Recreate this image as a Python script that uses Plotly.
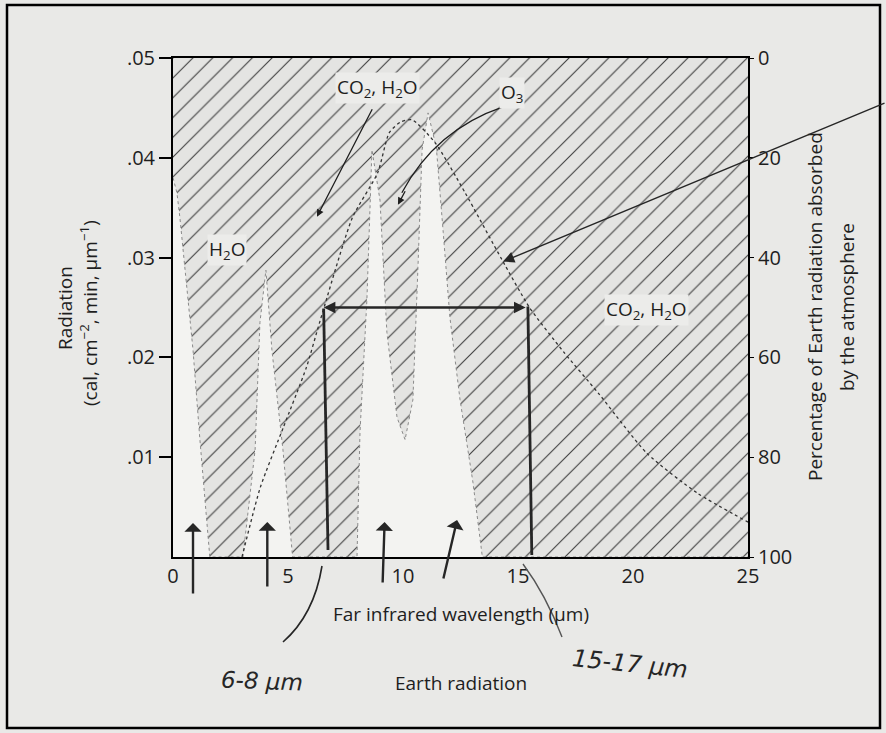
import plotly.graph_objects as go

# ---------------- data ----------------
# Earth radiation curve (left axis)
wl_rad = [3.0, 3.8, 4.8, 5.8, 6.4, 7.8, 8.9, 9.4, 9.9, 10.4, 11.4, 12.7, 14.3, 15.5, 17.0, 18.5, 20.6, 22.8, 25.0]
radiation = [0.0, 0.007, 0.013, 0.019, 0.0237, 0.034, 0.0385, 0.0425, 0.0436, 0.0438, 0.0415, 0.0365, 0.0298,
             0.025, 0.0205, 0.0164, 0.0104, 0.0064, 0.0035]

# Percentage of Earth radiation absorbed by the atmosphere (right axis, 0 at top)
wl_abs = [0.0, 0.17, 0.3, 0.87, 1.17, 1.6, 3.04, 3.57, 3.78, 4.04, 4.3, 4.78, 5.2,
          8.0, 8.13, 8.43, 8.65, 9.0, 9.3, 9.74, 10.09, 10.43, 10.65, 10.83, 11.09,
          11.45, 11.75, 12.04, 12.48, 13.04, 13.45, 25.0]
absorbed = [24, 27, 32, 58.5, 76.5, 100, 100, 78.5, 53, 42.5, 58.5, 78.5, 100,
            100, 75, 48.5, 18.4, 28.5, 55, 72, 76.5, 68.5, 42, 18.4, 11,
            18, 35, 52, 68.5, 85, 100, 100]

x_ticks = [0, 5, 10, 15, 20, 25]
rad_ticks = [0.01, 0.02, 0.03, 0.04, 0.05]
rad_ticklabels = [".01", ".02", ".03", ".04", ".05"]
pct_ticks = [0, 20, 40, 60, 80, 100]

# ---------------- layout constants ----------------
W, H = 886, 733
L, R, T, B = 173, 138, 58, 176
PW, PH = W - L - R, H - T - B
FONT = "Open Sans"
INK = "#1e1e1e"
HAND = "#262626"
PAPER = "#e9e9e7"


def px(xp):
    return (xp - L) / PW


def py(yp):
    return (H - B - yp) / PH


fig = go.Figure()

# hatched region: absorbed fraction (from top down to the absorption curve)
fig.add_trace(go.Scatter(
    x=wl_abs + [wl_abs[-1], wl_abs[0]],
    y=absorbed + [0, 0],
    yaxis="y", mode="lines", fill="toself",
    fillcolor="#e4e4e2",
    fillpattern=dict(shape="/", size=14, solidity=0.08, fgcolor="#404040", bgcolor="#e4e4e2", fillmode="replace"),
    line=dict(width=0), hoverinfo="skip", showlegend=False))

# boundary of absorption bands (fine dotted)
fig.add_trace(go.Scatter(
    x=wl_abs, y=absorbed, yaxis="y", mode="lines",
    line=dict(color="#8a8a8a", width=1, dash="dot"),
    hoverinfo="skip", showlegend=False))

# Earth radiation curve
fig.add_trace(go.Scatter(
    x=wl_rad, y=radiation, yaxis="y2", mode="lines",
    line=dict(color="#333333", width=1.3, dash="dot", shape="spline", smoothing=0.6),
    hoverinfo="skip", showlegend=False))

fig.update_layout(
    width=W, height=H,
    margin=dict(l=L, r=R, t=T, b=B),
    paper_bgcolor=PAPER, plot_bgcolor="#f3f3f1",
    font=dict(family=FONT, size=19, color=INK),
    showlegend=False,
    xaxis=dict(range=[0, 25], tickvals=x_ticks, ticks="", showgrid=False, zeroline=False,
               showline=True, linecolor="black", linewidth=2, mirror=True,
               tickfont=dict(size=20, family=FONT, color=INK)),
    yaxis=dict(range=[100, 0], side="right", tickvals=pct_ticks, ticks="outside", ticklen=4,
               tickcolor="black", showgrid=False, zeroline=False,
               showline=True, linecolor="black", linewidth=2,
               tickfont=dict(size=20, family=FONT, color=INK)),
    yaxis2=dict(range=[0, 0.05], side="left", overlaying="y", tickvals=rad_ticks, ticktext=rad_ticklabels,
                ticks="outside", ticklen=12, tickcolor="black", tickwidth=1.5, showgrid=False, zeroline=False,
                showline=True, linecolor="black", linewidth=2,
                tickfont=dict(size=20, family=FONT, color=INK)),
)

C = dict(xanchor="center", yanchor="middle")
ann = []
lab_bg = "#ececea"
# printed labels in the plot
ann.append(dict(x=2.35, y=0.0308, xref="x", yref="y2", text="H<sub>2</sub>O", showarrow=False,
                font=dict(size=19), bgcolor=lab_bg, **C))
ann.append(dict(x=8.87, y=0.047, xref="x", yref="y2", text="CO<sub>2</sub>, H<sub>2</sub>O", showarrow=False,
                font=dict(size=19), bgcolor=lab_bg, **C))
ann.append(dict(x=14.75, y=0.0465, xref="x", yref="y2", text="O<sub>3</sub>", showarrow=False,
                font=dict(size=19), bgcolor=lab_bg, **C))
ann.append(dict(x=20.6, y=0.0248, xref="x", yref="y2", text="CO<sub>2</sub>, H<sub>2</sub>O", showarrow=False,
                font=dict(size=19), bgcolor=lab_bg, **C))

# printed arrows
ann.append(dict(x=6.26, y=0.0341, xref="x", yref="y2", ax=56, ay=-109, text="", showarrow=True,
                arrowhead=2, arrowsize=1.1, arrowwidth=1.3, arrowcolor=INK))
ann.append(dict(x=9.78, y=0.0353, xref="x", yref="y2", ax=8, ay=-15, text="", showarrow=True,
                arrowhead=2, arrowsize=1.1, arrowwidth=1.3, arrowcolor=INK))

# axis titles
ann.append(dict(x=0.5, y=py(614), xref="paper", yref="paper", text="Far infrared wavelength (µm)",
                showarrow=False, font=dict(size=19), **C))
ann.append(dict(x=0.5, y=py(683), xref="paper", yref="paper", text="Earth radiation",
                showarrow=False, font=dict(size=19), **C))
ann.append(dict(x=px(65), y=py(308), xref="paper", yref="paper", text="Radiation", textangle=-90,
                showarrow=False, font=dict(size=19), **C))
ann.append(dict(x=px(89), y=py(313), xref="paper", yref="paper",
                text="(cal, cm<sup>−2</sup>, min, µm<sup>−1</sup>)", textangle=-90,
                showarrow=False, font=dict(size=19), **C))
ann.append(dict(x=px(815), y=py(307), xref="paper", yref="paper",
                text="Percentage of Earth radiation absorbed", textangle=-90,
                showarrow=False, font=dict(size=19), **C))
ann.append(dict(x=px(847), y=py(307), xref="paper", yref="paper",
                text="by the atmosphere", textangle=-90,
                showarrow=False, font=dict(size=19), **C))

# handwritten notes
ann.append(dict(x=px(262), y=py(681), xref="paper", yref="paper", text="<i>6-8 µm</i>",
                showarrow=False, font=dict(family="DejaVu Sans", size=23, color=HAND), textangle=2, **C))
ann.append(dict(x=px(630), y=py(664), xref="paper", yref="paper", text="<i>15-17 µm</i>",
                showarrow=False, font=dict(family="DejaVu Sans", size=24, color=HAND), textangle=6, **C))

# handwritten arrows
ann.append(dict(x=14.35, y=0.0296, xref="x", yref="y2", ax=383, ay=-159, text="", showarrow=True,
                arrowhead=2, arrowsize=1.6, arrowwidth=1.4, arrowcolor=HAND))
ann.append(dict(x=6.55, y=0.025, xref="x", yref="y2", ax=15.4, ay=0.025, axref="x", ayref="y2",
                text="", showarrow=True, arrowside="end+start", arrowhead=2, arrowsize=0.9,
                arrowwidth=2.6, arrowcolor=HAND))
for hx, hy, dx, dy in [(0.87, 0.0034, 0, 72), (4.1, 0.0035, 0, 66), (9.2, 0.0035, -2, 62), (12.35, 0.0037, -14, 60)]:
    ann.append(dict(x=hx, y=hy, xref="x", yref="y2", ax=dx, ay=dy, text="", showarrow=True,
                    arrowhead=1, arrowsize=1.2, arrowwidth=2.4, arrowcolor=HAND))

shapes = []
# O3 curved arrow shaft
shapes.append(dict(type="path", xref="x", yref="y2",
                   path="M 14.35,0.0451 Q 11.41,0.0428 9.95,0.0365",
                   line=dict(color=INK, width=1.3)))
# thick handwritten verticals
shapes.append(dict(type="line", xref="x", yref="y2", x0=6.74, y0=0.0007, x1=6.55, y1=0.0249,
                   line=dict(color=HAND, width=2.8)))
shapes.append(dict(type="line", xref="x", yref="y2", x0=15.6, y0=0.0002, x1=15.43, y1=0.0251,
                   line=dict(color=HAND, width=2.8)))
# connectors from the handwriting to the axis
shapes.append(dict(type="path", xref="paper", yref="paper",
                   path=f"M {px(283)},{py(642)} Q {px(314)},{py(615)} {px(322)},{py(566)}",
                   line=dict(color=HAND, width=1.6)))
shapes.append(dict(type="path", xref="paper", yref="paper",
                   path=f"M {px(523)},{py(564)} Q {px(546)},{py(595)} {px(562)},{py(637)}",
                   line=dict(color="#555555", width=1.4)))
# outer frame
shapes.append(dict(type="rect", xref="paper", yref="paper", x0=px(7), x1=px(880), y0=py(728), y1=py(5),
                   line=dict(color="black", width=2.5), layer="below"))

fig.update_layout(annotations=ann, shapes=shapes)
fig.write_html("out.html", config={"displayModeBar": False},
               post_script="document.body.style.margin='0px';document.body.style.background='" + PAPER + "';")
